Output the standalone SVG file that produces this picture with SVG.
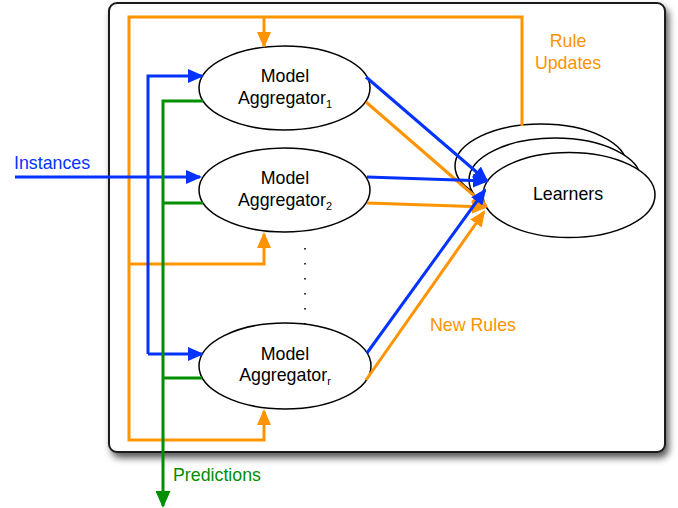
<svg xmlns="http://www.w3.org/2000/svg" width="678" height="508" viewBox="0 0 678 508">
<defs>
<filter id="sh" x="-5%" y="-5%" width="115%" height="115%">
<feDropShadow dx="3" dy="5" stdDeviation="3.5" flood-color="#000" flood-opacity="0.65"/>
</filter>
<marker id="ab" markerUnits="userSpaceOnUse" markerWidth="16" markerHeight="14" refX="14" refY="7" orient="auto"><path d="M0,0 L16,7 L0,14 z" fill="#0433ff"/></marker>
<marker id="ao" markerUnits="userSpaceOnUse" markerWidth="16" markerHeight="14" refX="14" refY="7" orient="auto"><path d="M0,0 L16,7 L0,14 z" fill="#ff9300"/></marker>
<marker id="ag" markerUnits="userSpaceOnUse" markerWidth="17" markerHeight="15" refX="15" refY="7.5" orient="auto"><path d="M0,0 L17,7.5 L0,15 z" fill="#008f00"/></marker>
</defs>
<style>
.nd{fill:#fff;stroke:#000;stroke-width:1.5}
.t{font-family:"Liberation Sans",Arial,sans-serif;font-size:17.8px;fill:#000}
.sub{font-size:11px}
.b{fill:none;stroke:#0433ff;stroke-width:3}
.o{fill:none;stroke:#ff9300;stroke-width:3}
.g{fill:none;stroke:#008f00;stroke-width:3}
.lb{font-family:"Liberation Sans",Arial,sans-serif;font-size:17.8px}
</style>
<rect x="109" y="3" width="556" height="449" rx="8" fill="#fff" stroke="#1a1a1a" stroke-width="2" filter="url(#sh)"/>
<g id="agg1"><ellipse class="nd" cx="284.5" cy="88" rx="85.5" ry="42"/><text class="t" text-anchor="middle" x="285" y="82">Model</text><text class="t" text-anchor="middle" x="285" y="104">Aggregator<tspan class="sub" dy="4">1</tspan></text></g>
<g id="agg2"><ellipse class="nd" cx="284.5" cy="190" rx="85.5" ry="42"/><text class="t" text-anchor="middle" x="285" y="184">Model</text><text class="t" text-anchor="middle" x="285" y="206">Aggregator<tspan class="sub" dy="4">2</tspan></text></g>
<g id="aggr"><ellipse class="nd" cx="285" cy="366" rx="86" ry="43"/><text class="t" text-anchor="middle" x="285" y="360">Model</text><text class="t" text-anchor="middle" x="285" y="381">Aggregator<tspan class="sub" dy="4">r</tspan></text></g>
<g id="dots"><line x1="305" y1="248" x2="305" y2="324" stroke="#000" stroke-width="1.6" stroke-dasharray="1.6 13.4"/></g>
<g id="learners"><ellipse class="nd" cx="541" cy="166" rx="86" ry="42"/><ellipse class="nd" cx="555" cy="180" rx="86" ry="42"/><ellipse class="nd" cx="569" cy="195" rx="86" ry="42.5"/><text class="t" text-anchor="middle" x="568" y="200">Learners</text></g>
<g id="connectors">
<path class="o" d="M522,126 V17 H129 V440 H264 V411" marker-end="url(#ao)"/>
<path class="o" d="M264,17 V46" marker-end="url(#ao)"/>
<path class="o" d="M129,264 H264 V234" marker-end="url(#ao)"/>
<path class="o" d="M366,102 L486,206" marker-end="url(#ao)"/>
<path class="o" d="M367,203 L486,207" marker-end="url(#ao)"/>
<path class="o" d="M366,380 L484,212" marker-end="url(#ao)"/>
<path class="b" d="M148,354 V76 H202" marker-end="url(#ab)"/>
<path class="b" d="M148,354 H202" marker-end="url(#ab)"/>
<path class="b" d="M15,177 H200" marker-end="url(#ab)"/>
<path class="b" d="M366,77 L487,181" marker-end="url(#ab)"/>
<path class="b" d="M367,177 L487,181" marker-end="url(#ab)"/>
<path class="b" d="M367,353 L485,190" marker-end="url(#ab)"/>
<path class="g" d="M203,101 H163 V506" marker-end="url(#ag)"/>
<path class="g" d="M163,203 H203"/>
<path class="g" d="M163,378 H202"/>
</g>
<g id="labels">
<text class="lb" x="14" y="169" fill="#0433ff">Instances</text>
<text class="lb" x="173" y="481" fill="#008f00">Predictions</text>
<text class="lb" x="568" y="47" fill="#ff9300" text-anchor="middle">Rule</text>
<text class="lb" x="568" y="69" fill="#ff9300" text-anchor="middle">Updates</text>
<text class="lb" x="430" y="331" fill="#ff9300">New Rules</text>
</g>
</svg>
